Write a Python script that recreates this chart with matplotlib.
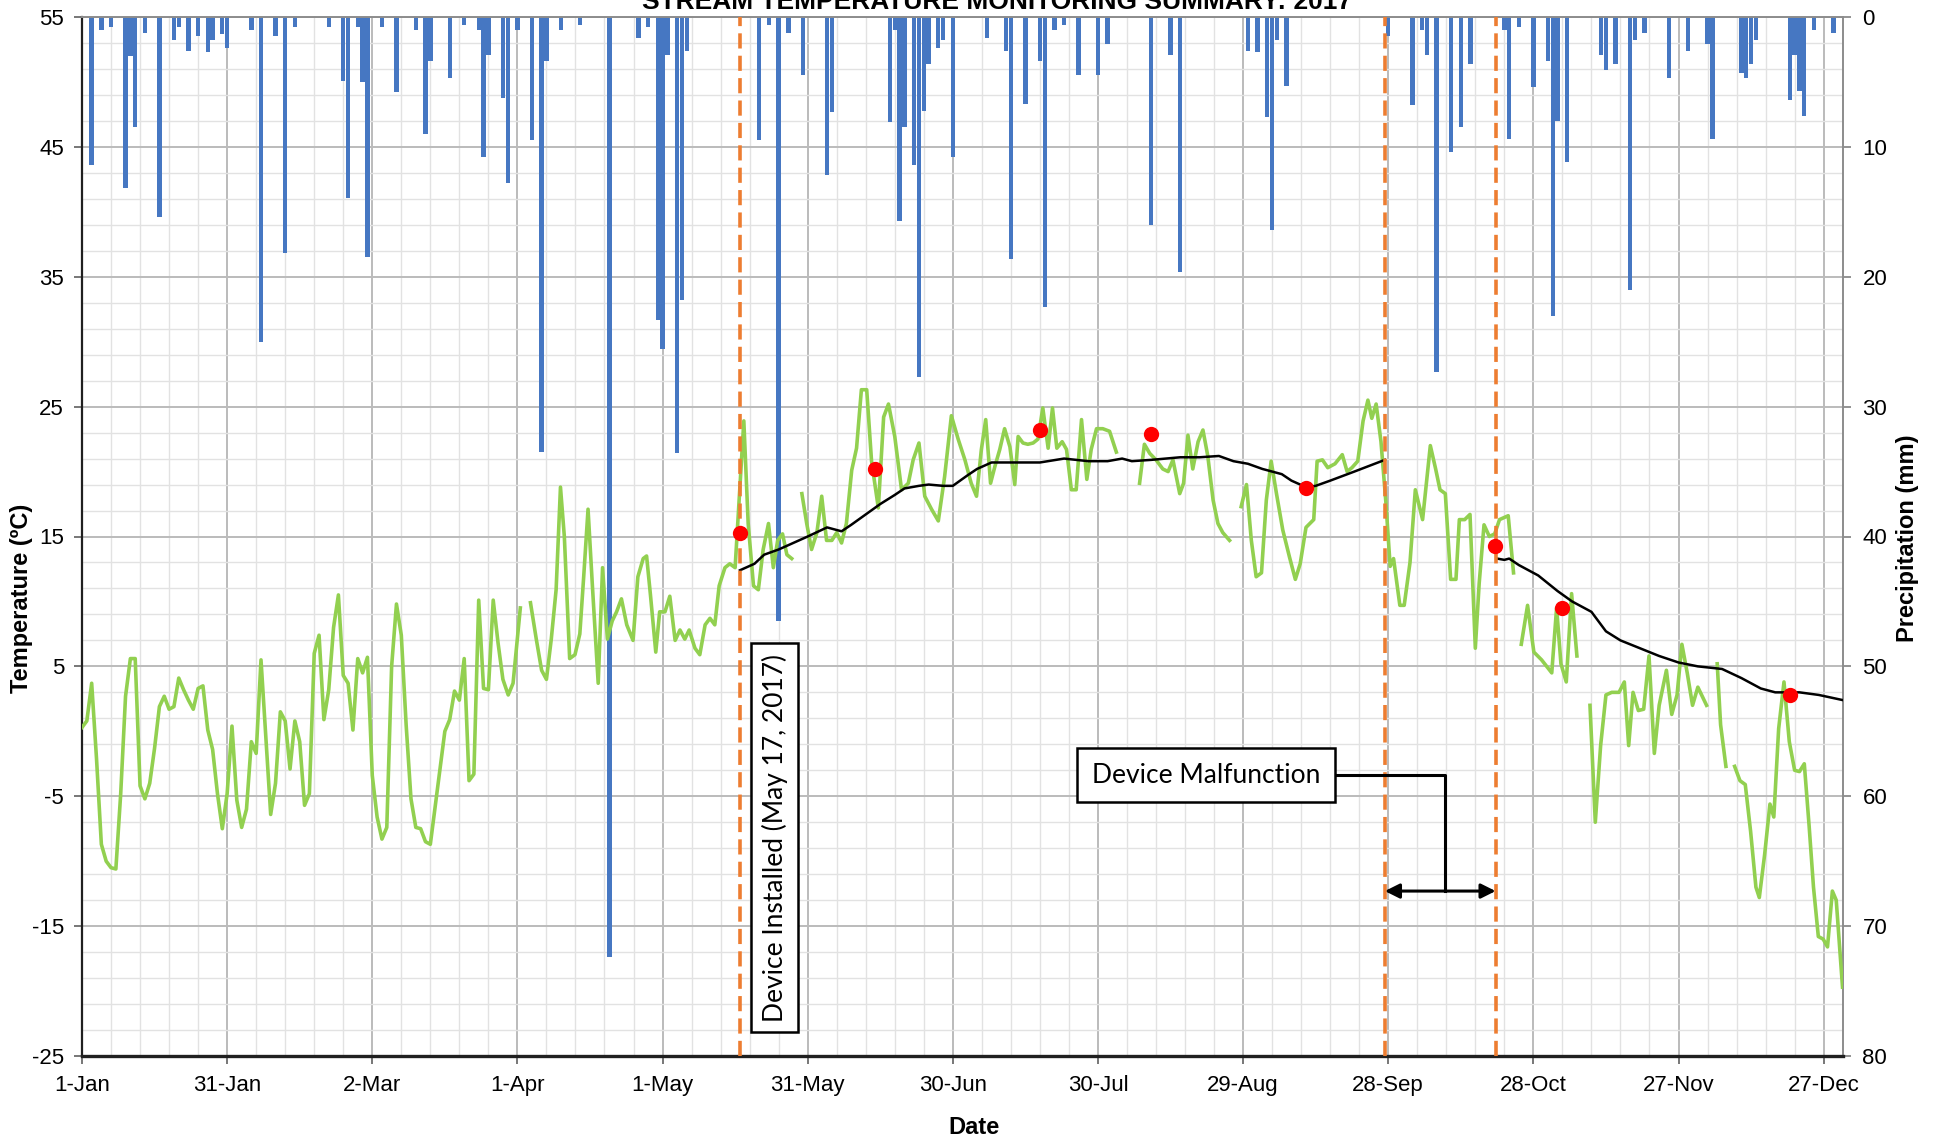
import numpy as np
import matplotlib
matplotlib.use('Agg')
import matplotlib.pyplot as plt
from matplotlib.ticker import MultipleLocator, FixedLocator

plt.rcParams['axes.unicode_minus'] = False
plt.rcParams['font.family'] = ['Liberation Sans', 'DejaVu Sans']

nan = np.nan

# ---------------- data (day offset from 1-Jan-2017) ----------------
air_day = [0, 1, 2, 3, 4, 5, 6, 7, 8, 9, 10, 11, 12, 13, 14, 15, 16, 17, 18, 19,
           20, 21, 22, 23, 24, 25, 26, 27, 28, 29, 30, 31, 32, 33, 34, 35, 36, 37, 38, 39,
           40, 41, 42, 43, 44, 45, 46, 47, 48, 49, 50, 51, 52, 53, 54, 55, 56, 57, 58, 59,
           60, 61, 62, 63, 64, 65, 66, 67, 68, 69, 70, 71, 72, 73, 74, 75, 76, 77, 78, 79,
           80, 81, 82, 83, 84, 85, 86, 87, 88.1, 89.1, 90.6, 91.6, 92.7, 93.9, 95, 96, 97, 98, 98.9, 99.7,
           100.8, 101.9, 102.9, 103.7, 104.6, 105.5, 106.7, 107.6, 108.6, 109.6, 110.5, 111.5, 112.6, 113.9,
           114.9, 116, 116.7, 117.5, 118.6, 119.4, 120.5, 121.5, 122.6, 123.6, 124.6, 125.5, 126.7, 127.7,
           128.8, 129.8, 130.8, 131.7, 132.9, 133.9, 135, 136.8, 137.7, 138.8, 139.8, 140.8, 141.9, 142.9,
           143.8, 144.8, 145.7, 146.7, 147.7, 148.8, 149.8, 150.8, 151.9, 152.9, 153.9, 155, 156, 157, 158,
           159.1, 160.1, 161.1, 162.2, 163.2, 164.6, 165.7, 166.7, 168, 169.4, 170.8, 171.8, 173, 174.2,
           175.6, 177, 178.3, 179.7, 181.1, 182.5, 183.8, 184.9, 185.9, 186.8, 187.8, 188.7, 189.7, 190.7,
           191.8, 192.8, 193.5, 194.5, 195.5, 196.6, 197.6, 198.6, 199.7, 200.6, 201.5, 202.6, 203.5, 204.5,
           205.5, 206.6, 207.7, 208.6, 209.7, 211, 212.4, 213.8, 216, 218.6, 219.6, 220.7, 222, 223.4, 224.5,
           225.5, 226.9, 227.7, 228.6, 229.6, 230.7, 231.7, 232.7, 233.8, 234.8, 235.8, 237.2, 238.4, 239.6,
           240.7, 241.7, 242.7, 243.8, 244.8, 245.8, 246.9, 248.2, 249.6, 250.8, 251.8, 253, 254.6, 255.3,
           256.4, 257.5, 259, 260.5, 261.5, 262.5, 263.7, 264.8, 265.8, 266.6, 267.5, 268.5, 269.5, 270.4,
           271.1, 272.4, 273.3, 274.5, 275.6, 277.1, 278.7, 279.8, 280.7, 281.8, 282.9, 284, 284.7, 285.8,
           286.9, 288, 288.8, 289.8, 290.9, 292, 293, 294.8, 295.9, 296.7, 297.5, 298.8, 300.1, 301.7, 303.8,
           304.8, 305.7, 306.8, 307.9, 309, 310.3, 311.7, 312.8, 313.9, 315, 316.2, 317.7, 318.8, 319.7,
           320.6, 321.7, 322.8, 323.9, 325, 326, 327.5, 328.6, 329.7, 330.7, 331.8, 332.9, 334, 335.8, 336.9,
           338, 338.7, 339.8, 340.7, 341.6, 342.7, 343.8, 344.9, 346, 346.7, 347.8, 348.9, 349.7, 350.7,
           351.8, 352.9, 354, 355, 356, 357, 357.9, 358.9, 359.9, 360.8, 361.8, 362.6, 363.9]
air_temp = [0.3, 0.8, 3.7, -2.1, -8.7, -10.0, -10.5, -10.6, -4.8, 2.7, 5.6, 5.6, -4.2, -5.2, -4.0, -1.3,
            1.9, 2.7, 1.7, 1.9, 4.1, 3.2, 2.4, 1.7, 3.3, 3.5, 0.1, -1.4, -4.8, -7.5, -4.8, 0.4, -5.3, -7.4,
            -6.0, -0.8, -1.7, 5.5, -0.5, -6.4, -4.0, 1.5, 0.8, -2.9, 0.8, -0.8, -5.7, -4.8, 6.0, 7.4, 0.9,
            3.2, 8.0, 10.5, 4.3, 3.7, 0.1, 5.6, 4.5, 5.7, -3.4, -6.6, -8.3, -7.4, 5.0, 9.8, 7.4, 0.5, -5.2,
            -7.4, -7.5, -8.5, -8.7, -5.8, -2.9, 0.0, 0.9, 3.1, 2.4, 5.6, -3.8, -3.3, 10.1, 3.3, 3.2, 10.1,
            6.8, 4.0, 2.8, 3.7, 9.5, nan, 9.9, 7.1, 4.7, 4.0, 7.1, 10.9, 18.8, 15.0,
            5.6, 5.9, 7.5, 11.9, 17.1, 11.2, 3.7, 12.6, 7.1, 8.5, 9.2, 10.2, 8.2, 7.0,
            11.9, 13.3, 13.5, 10.5, 6.1, 9.2, 9.2, 10.4, 7.0, 7.8, 7.1, 7.8, 6.4, 5.9,
            8.2, 8.7, 8.2, 11.2, 12.6, 12.9, 12.6, 23.9, 16.0, 11.2, 10.9, 14.0, 16.0, 12.6,
            14.7, 15.2, 13.6, 13.3, nan, 18.3, 16.0, 14.0, 15.3, 18.1, 14.7, 14.7, 15.3, 14.5, 16.0,
            20.1, 21.8, 26.3, 26.3, 20.8, 17.2, 24.2, 25.2, 22.7, 18.6, 19.1, 20.9, 22.2, 18.1,
            17.1, 16.2, 19.6, 24.3, 22.5, 20.9, 19.1, 18.1, 21.7, 24.0, 19.1, 20.4, 21.7, 23.3,
            21.9, 19.0, 22.7, 22.2, 22.1, 22.2, 22.5, 24.9, 21.8, 24.9, 21.8, 22.3, 21.7, 18.6,
            18.6, 24.0, 19.4, 21.7, 23.3, 23.3, 23.1, 21.5, nan, 19.1, 22.1, 21.4, 20.9, 20.2, 20.0,
            20.9, 18.3, 19.1, 22.8, 20.2, 22.3, 23.2, 21.2, 17.8, 16.0, 15.3, 14.7, nan, 17.3,
            19.0, 14.7, 11.9, 12.2, 17.8, 20.8, 18.3, 15.5, 13.4, 11.7, 12.9, 15.7, 16.3, 20.8,
            20.9, 20.3, 20.6, 21.3, 20.0, 20.3, 20.8, 23.9, 25.5, 24.1, 25.2, 22.3, 17.7, 12.7,
            13.3, 9.7, 9.7, 13.0, 18.6, 16.3, 22.0, 20.2, 18.6, 18.3, 11.7, 11.7, 16.3, 16.3,
            16.7, 6.4, 11.4, 15.9, 15.0, 15.2, 16.3, 16.6, 12.2, nan, 6.7, 9.7, 6.1, 5.5, 4.5,
            9.5, 5.2, 3.8, 10.6, 5.8, nan, 2.0, -7.0, -1.1, 2.8, 3.0, 3.0, 3.8, -1.1,
            3.0, 1.6, 1.7, 5.8, -1.7, 2.0, 4.7, 1.3, 2.8, 6.7, 4.5, 2.0, 3.4, 2.0, nan,
            5.2, 0.5, -2.7, nan, -2.7, -3.8, -4.1, -7.7, -12.0, -12.8, -9.5, -5.6, -6.6, 0.2,
            3.8, -0.8, -3.0, -3.1, -2.5, -7.3, -12.0, -15.8, -16.0, -16.6, -12.3, -13.0, -19.7]

stream_day = [136, 139, 141, 144, 147, 150, 154, 157, 159, 162, 165, 168, 170, 173, 175, 178, 180,
              183, 185, 188, 192, 198, 203, 208, 212, 215, 217, 221, 227, 231, 235, 238, 241, 244,
              248, 250, 253, 255, 258, 263, 269.3, 281,
              292.5, 294, 295, 297, 301, 305, 308, 312, 315, 318, 322, 326, 330, 334, 339, 343, 347,
              350, 355, 359, 364]
stream_temp = [12.4, 12.9, 13.6, 14.0, 14.5, 15.0, 15.7, 15.4, 15.9, 16.7, 17.5, 18.2, 18.7, 18.9,
               19.0, 18.9, 18.9, 19.7, 20.2, 20.7, 20.7, 20.7, 21.0, 20.8, 20.8, 21.0, 20.8, 20.9,
               21.1, 21.1, 21.2, 20.8, 20.6, 20.2, 19.8, 19.3, 18.8, 18.9, 19.3, 20.0, 20.9, nan,
               13.3, 13.2, 13.3, 12.8, 12.0, 10.8, 10.0, 9.2, 7.7, 7.0, 6.4, 5.8, 5.3, 5.0, 4.8, 4.1,
               3.3, 3.0, 3.0, 2.8, 2.4]

spot_day = [136, 164, 198, 221, 253, 292, 306, 353]
spot_temp = [15.3, 20.2, 23.2, 22.9, 18.7, 14.3, 9.5, 2.8]

precip_day = [2, 4, 6, 9, 10, 11, 13, 16, 19, 20, 22, 24, 26, 27, 29, 30, 35, 37, 40, 42, 44, 51,
              54, 55, 57, 58, 59, 62, 65, 69, 71, 72, 76, 79, 82, 83, 84, 87, 88, 90, 93, 95, 96,
              99, 103, 109, 115, 117, 119, 120, 121, 123, 124, 125, 140, 142, 144, 146, 149, 154,
              155, 167, 168, 169, 170, 172, 173, 174, 175, 177, 178, 180, 187, 191, 192, 195, 198,
              199, 201, 203, 206, 210, 212, 221, 225, 227, 241, 243, 245, 246, 247, 249, 270, 275,
              277, 278, 280, 283, 285, 287, 294, 295, 297, 300, 303, 304, 305, 307, 314, 315, 317,
              320, 321, 323, 328, 332, 336, 337, 343, 344, 345, 346, 353, 354, 355, 356, 358, 362]
precip_mm = [11.4, 1.0, 0.8, 13.2, 3.0, 8.5, 1.2, 15.4, 1.8, 0.8, 2.6, 1.5, 2.7, 1.8, 1.3, 2.4, 1.0,
             25.0, 1.5, 18.2, 0.8, 0.8, 4.9, 13.9, 0.8, 5.0, 18.5, 0.8, 5.8, 1.0, 9.0, 3.4, 4.7, 0.6,
             1.0, 10.8, 2.9, 6.2, 12.8, 1.0, 9.5, 33.5, 3.4, 1.0, 0.6, 72.4, 1.6, 0.8, 23.3, 25.6,
             2.9, 33.6, 21.8, 2.6, 9.5, 0.6, 46.5, 1.2, 4.5, 12.2, 7.3, 8.1, 1.0, 15.7, 8.5, 11.4,
             27.7, 7.2, 3.6, 2.4, 1.8, 10.8, 1.6, 2.6, 18.6, 6.7, 3.4, 22.3, 1.0, 0.6, 4.5, 4.5,
             2.1, 16.0, 2.9, 19.6, 2.6, 2.7, 7.7, 16.4, 1.8, 5.3, 1.5, 6.8, 1.0, 2.9, 27.3, 10.4,
             8.5, 3.6, 1.0, 9.4, 0.8, 5.4, 3.4, 23.0, 8.0, 11.2, 2.9, 4.1, 3.6, 21.0, 1.8, 1.2, 4.7,
             2.6, 2.1, 9.4, 4.3, 4.7, 3.6, 1.8, 6.4, 2.9, 5.7, 7.6, 1.0, 1.2]

tick_days = [0, 30, 60, 90, 120, 150, 180, 210, 240, 270, 300, 330, 360]
tick_labels = ['1-Jan', '31-Jan', '2-Mar', '1-Apr', '1-May', '31-May', '30-Jun', '30-Jul',
               '29-Aug', '28-Sep', '28-Oct', '27-Nov', '27-Dec']
temp_ticks = [-25, -15, -5, 5, 15, 25, 35, 45, 55]
precip_ticks = [0, 10, 20, 30, 40, 50, 60, 70, 80]
event_days = [136, 269.3, 292.2]

# ---------------- figure ----------------
W, H = 1940, 1143
fig = plt.figure(figsize=(W / 100, H / 100), dpi=100)
fig.patch.set_facecolor('white')
L, R, T, B = 82, 1843, 17, 1056
ax = fig.add_axes([L / W, 1 - B / H, (R - L) / W, (B - T) / H])
ax2 = ax.twinx()
ax.set_zorder(2)
ax2.set_zorder(1)
ax.patch.set_visible(False)
ax2.patch.set_visible(True)
ax2.patch.set_facecolor('white')

# precipitation axis + grid (drawn beneath everything)
ax2.set_xlim(0, 364)
ax2.set_ylim(80, 0)
ax2.set_yticks(precip_ticks)
ax2.yaxis.set_minor_locator(MultipleLocator(2))
ax2.xaxis.set_visible(True)
ax2.xaxis.set_major_locator(FixedLocator(tick_days))
ax2.xaxis.set_minor_locator(MultipleLocator(6))
ax2.tick_params(axis='x', which='both', bottom=False, top=False, labelbottom=False, labeltop=False)
ax2.set_axisbelow(True)
ax2.grid(which='minor', color='#E2E2E2', lw=1.0)
ax2.grid(which='major', color='#BBBBBB', lw=1.4)
ax2.bar(precip_day, precip_mm, width=0.9, color='#4677C2', zorder=2)
ax2.tick_params(axis='y', which='major', labelsize=16, length=6, width=1.2, color='#808080', pad=8)
ax2.tick_params(axis='y', which='minor', length=0)
for s in ax2.spines.values():
    s.set_visible(False)

# temperature axis
ax.set_xlim(0, 364)
ax.set_ylim(-25, 55)
ax.set_yticks(temp_ticks)
ax.set_xticks(tick_days, tick_labels)
ax.tick_params(axis='both', which='major', labelsize=16, length=6, width=1.2, color='#606060')
ax.tick_params(axis='x', pad=8)
ax.tick_params(axis='y', pad=7)
ax.tick_params(which='minor', length=0)
ax.spines['bottom'].set_linewidth(2.4)
ax.spines['bottom'].set_color('#202020')
ax.spines['left'].set_linewidth(1.6)
ax.spines['left'].set_color('#202020')
ax.spines['top'].set_color('#8C8C8C')
ax.spines['top'].set_linewidth(1.4)
ax.spines['right'].set_color('#8C8C8C')
ax.spines['right'].set_linewidth(1.4)

ax.plot(air_day, air_temp, color='#92D050', lw=2.6, solid_joinstyle='round', zorder=3)
ax.plot(stream_day, stream_temp, color='black', lw=1.8, zorder=4)
ax.plot(spot_day, spot_temp, 'o', color='#FF0000', ms=11, mec='none', zorder=5)
for d in event_days:
    ax.axvline(d, color='#ED7D31', lw=2.6, dashes=(4.2, 2), zorder=4)

# annotations
ax.text(143.2, -8.2, 'Device Installed (May 17, 2017)', rotation=90, ha='center', va='center',
        fontsize=19, family=['Lato', 'DejaVu Sans'], zorder=6,
        bbox=dict(boxstyle='square,pad=0.4', fc='white', ec='black', lw=1.8))
ax.text(232.3, -3.4, 'Device Malfunction', ha='center', va='center', fontsize=19,
        family=['Lato', 'DejaVu Sans'], zorder=6,
        bbox=dict(boxstyle='square,pad=0.55', fc='white', ec='black', lw=1.8))
ax.plot([255, 281.7, 281.7], [-3.4, -3.4, -12.3], color='black', lw=2.2, zorder=5)
ax.annotate('', xy=(269.3, -12.3), xytext=(292.2, -12.3), zorder=5,
            arrowprops=dict(arrowstyle='<|-|>', color='black', lw=2.2, mutation_scale=22,
                            shrinkA=0, shrinkB=0))

# labels
fig.text(997 / W, 1 - 9 / H, 'STREAM TEMPERATURE MONITORING SUMMARY: 2017', ha='center',
         va='baseline', fontsize=19, fontweight='bold')
fig.text(974 / W, 1 - 1128 / H, 'Date', ha='center', va='center', fontsize=17, fontweight='bold')
fig.text(22 / W, 1 - 598 / H, 'Temperature (ºC)', rotation=90, ha='center', va='center',
         fontsize=17, fontweight='bold')
fig.text(1908 / W, 1 - 538 / H, 'Precipitation (mm)', rotation=90, ha='center', va='center',
         fontsize=17, fontweight='bold')

fig.savefig('out.png', dpi=100, facecolor='white')
